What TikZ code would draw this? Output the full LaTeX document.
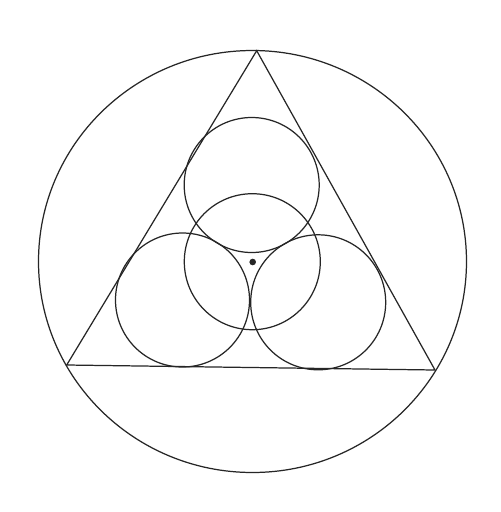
\documentclass[tikz,border=0pt]{standalone}
\begin{document}
\begin{tikzpicture}[x=0.02cm,y=-0.02cm,
  stroke/.style={draw=black!85,line width=0.7pt},
  dotmark/.style={fill=black!85}]
\useasboundingbox (0,0) rectangle (501,512);
\fill[white] (0,0) rectangle (501,512);
% outer circle
\draw[stroke] (252.5,261.5) circle[x radius=214, y radius=211];
% triangle
\coordinate (A) at (256.7,50.7);
\coordinate (B) at (66.7,365);
\coordinate (C) at (435,370);
\draw[stroke,line join=miter] (A) -- (B) -- (C) -- cycle;
% inner circles
\draw[stroke] (251.7,185) circle[radius=67.5];
\draw[stroke] (252.3,261.7) circle[radius=68];
\draw[stroke] (182.5,300) circle[radius=67];
\draw[stroke] (318.2,302.3) circle[radius=67.5];
% centre dot
\fill[dotmark] (252.7,262) circle[radius=3.3];
\end{tikzpicture}
\end{document}
